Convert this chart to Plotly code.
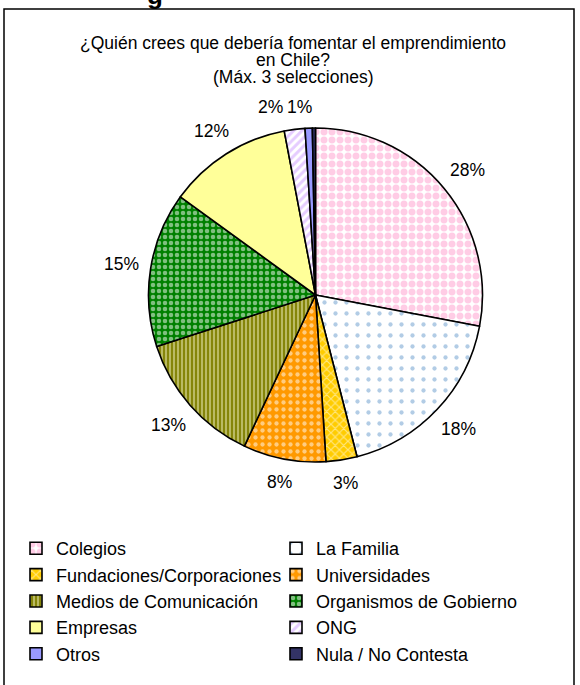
import math
import plotly.graph_objects as go

labels = ["Colegios", "La Familia", "Fundaciones/Corporaciones", "Universidades",
          "Medios de Comunicación", "Organismos de Gobierno", "Empresas", "ONG",
          "Otros", "Nula / No Contesta"]
values = [28, 18, 3, 8, 13, 15, 12, 2, 0.7, 0.3]

colors_bg = ["#FFFFFF", "#FFFFFF", "#FFCC00", "#FF9900", "#808000", "#008000",
             "#FFFF99", "#FFFFFF", "#9999FF", "#333366"]
colors_fg = ["#FF99CC", "#6699CC", "#FFFFFF", "#FFFFFF", "#F4F4C8", "#FFFFFF",
             "#FFFF99", "#CC99FF", "#9999FF", "#333366"]
shapes = [".", ".", "x", ".", "|", ".", "", "/", "", ""]
sizes = [8, 11, 6, 7, 4, 6, 8, 6, 8, 8]
solidity = [0.6, 0.12, 0.35, 0.3, 0.55, 0.45, 0.3, 0.5, 0.3, 0.3]

title_lines = ["¿Quién crees que debería fomentar el emprendimiento",
               "en Chile?", "(Máx. 3 selecciones)"]

FONT = "Liberation Sans, Arial"
LBL = 17.5
W, H = 580, 685
cx, cy, r = 315.5, 295, 167

fig = go.Figure(go.Pie(
    labels=labels, values=values, sort=False, direction="clockwise", rotation=0,
    marker=dict(colors=colors_bg, line=dict(color="black", width=1.6),
                pattern=dict(shape=shapes, fgcolor=colors_fg, bgcolor=colors_bg,
                             size=sizes, solidity=solidity, fillmode="overlay")),
    textinfo="none",
    domain=dict(x=[(cx - r) / W, (cx + r) / W], y=[1 - (cy + r) / H, 1 - (cy - r) / H]),
    hoverinfo="label+percent", showlegend=True,
))

# percentage labels outside the pie, at each slice's mid-angle
total = sum(values)
pos = []
cum = 0
for v in values:
    pct = round(v / total * 100)
    if pct > 0:
        txt = f"{pct}%"
        theta = (cum + v / 2) / total * 2 * math.pi
        s, c = math.sin(theta), math.cos(theta)
        d = r + 13 + 15 * abs(s) + 8 * abs(c)
        x, y = cx + d * s, cy - d * c
        hw = 0.5 * LBL * (0.556 * len(str(pct)) + 0.889)
        if theta > math.pi:          # left half: keep label left of the centre line
            x = min(x, cx - hw - 3)
        pos.append([x, y, txt])
    cum += v
# avoid overlapping neighbouring labels (push the earlier one to the left)
for i in range(len(pos) - 2, -1, -1):
    a, b = pos[i], pos[i + 1]
    if abs(a[1] - b[1]) < 20 and abs(a[0] - b[0]) < 29:
        a[0] = b[0] - 29

annotations = []
for px, py, txt in pos:
    annotations.append(dict(text=txt, x=px / W, y=1 - py / H,
                            xref="paper", yref="paper", xanchor="center",
                            yanchor="middle", showarrow=False,
                            font=dict(size=LBL, family=FONT, color="black")))

for i, line in enumerate(title_lines):
    annotations.append(dict(text=line, x=293 / W, y=1 - (43 + 17 * i) / H,
                            xref="paper", yref="paper", xanchor="center",
                            yanchor="middle", showarrow=False,
                            font=dict(size=17.5, family=FONT, color="black")))

annotations.append(dict(text="<b>g</b>", x=155 / W, y=1 - 12 / H, xref="paper", yref="paper",
                        xanchor="center", yanchor="bottom", showarrow=False,
                        font=dict(size=26, family=FONT, color="black")))

fig.update_layout(
    width=W, height=H, margin=dict(l=0, r=0, t=0, b=0),
    paper_bgcolor="white", plot_bgcolor="white",
    font=dict(family=FONT, size=18, color="black"),
    legend=dict(orientation="h", x=16 / W, xanchor="left", y=1 - 530 / H, yanchor="top",
                entrywidth=215, entrywidthmode="pixels", itemwidth=30,
                font=dict(size=18, family=FONT), bgcolor="rgba(0,0,0,0)",
                traceorder="normal"),
    shapes=[dict(type="rect", xref="paper", yref="paper", x0=4 / W, x1=574 / W,
                 y0=-0.05, y1=1 - 9 / H, line=dict(color="black", width=1.5),
                 fillcolor="rgba(0,0,0,0)")],
    annotations=annotations,
)

fig.write_html("out.html", config={"displayModeBar": False},
               post_script="document.body.style.margin='0px';")
